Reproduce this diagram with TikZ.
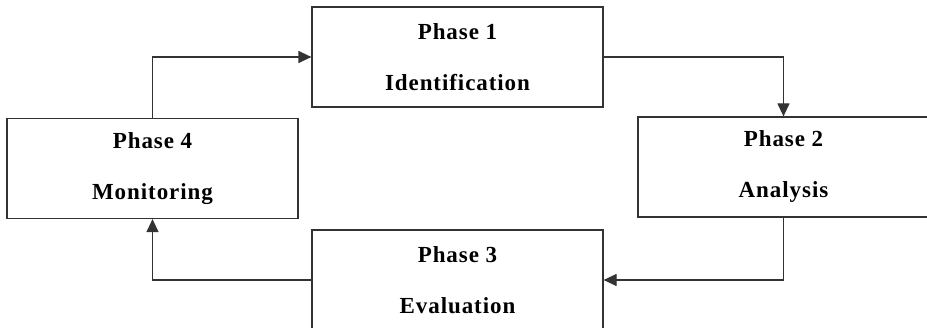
\documentclass[tikz,border=0pt]{standalone}
\usepackage{fontspec}
\setmainfont{Liberation Serif}
\newfontfamily\phasefont[LetterSpace=4]{Liberation Serif}
\usetikzlibrary{arrows.meta}
\begin{document}
\begin{tikzpicture}[x=1pt,y=1pt,
  phasebox/.style={draw=black!80, line width=1.2pt, rectangle,
    minimum width=291pt, minimum height=100pt, align=center,
    inner sep=0pt,
    font=\phasefont\bfseries\fontsize{23}{51}\selectfont},
  flow/.style={draw=black!80, line width=1.2pt,
    -{Triangle[length=13pt,width=12pt]}}]
  \useasboundingbox (0,0) rectangle (927,327);
  \clip (0,0) rectangle (927,327);
  \node[phasebox] (p1) at (457.5,270) {Phase 1\\Identification};
  \node[phasebox] (p2) at (783.5,160) {Phase 2\\Analysis};
  \node[phasebox] (p3) at (457.5,47) {Phase 3\\Evaluation};
  \node[phasebox] (p4) at (152.5,158.5) {Phase 4\\Monitoring};
  \draw[flow] (p4.north) |- (p1.west);
  \draw[flow] (p1.east) -| (p2.north);
  \draw[flow] (p2.south) |- (p3.east);
  \draw[flow] (p3.west) -| (p4.south);
\end{tikzpicture}
\end{document}
